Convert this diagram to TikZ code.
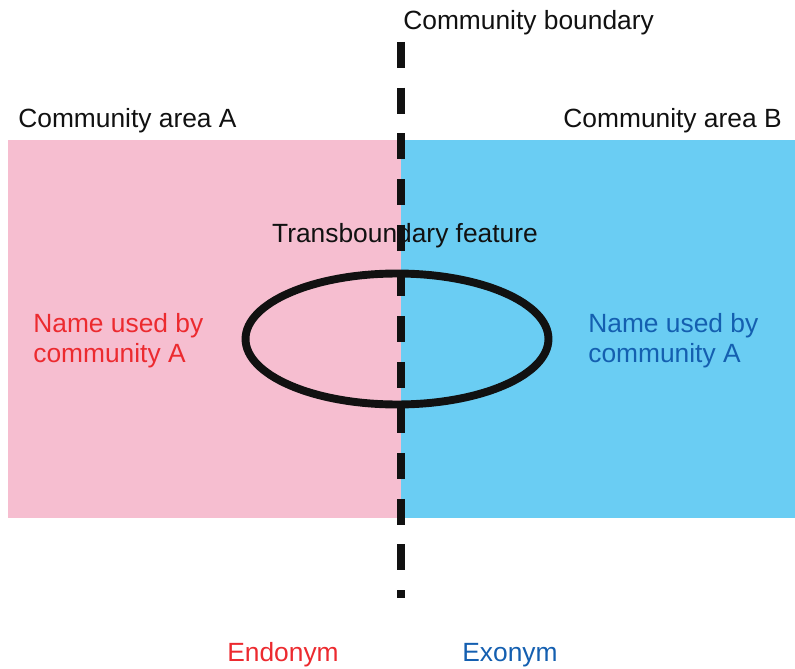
\documentclass[tikz,border=0pt]{standalone}
\usepackage{fontspec}
\setmainfont{Liberation Sans}
\usetikzlibrary{positioning,shapes.geometric}
\definecolor{endofill}{HTML}{F6BED0}
\definecolor{exofill}{HTML}{6ACDF3}
\definecolor{endotext}{HTML}{EC2A2F}
\definecolor{exotext}{HTML}{145FB0}
\definecolor{ink}{HTML}{111111}
\tikzset{
  area/.style     = {draw=none, inner sep=0pt, anchor=north west},
  lbl/.style      = {font=\fontsize{15}{17}\selectfont, inner sep=0pt, text=ink},
  usedname/.style = {font=\fontsize{15}{17}\selectfont, inner sep=0pt, align=left},
  border/.style   = {draw=ink, line width=4pt, dash pattern=on 14.7pt off 11.3pt},
}

\begin{document}
\begin{tikzpicture}[x=0.02cm, y=-0.02cm]
    \useasboundingbox (0,0) rectangle (795,669);
    % the two community areas
    \node[area, fill=endofill, minimum width=7.86cm, minimum height=7.56cm] (areaA) at (8,140) {};
    \node[area, fill=exofill, minimum width=7.88cm, minimum height=7.56cm] (areaB) at (401,140) {};
    \node[lbl, anchor=west] (labA) at (18,121) {Community area A};
    \node[lbl, anchor=east] (labB) at (782,121) {Community area B};
    % boundary line
    \coordinate (btop) at (401,42);
    \coordinate (bbot) at (401,598);
    \node[lbl, anchor=west] (labbound) at (403,23) {Community boundary};
    % the feature
    \node[ellipse, draw=ink, line width=4.5pt, minimum width=6.06cm, minimum height=2.62cm,
          inner sep=0pt] (feature) at (397,339) {};
    \draw[border] (btop) -- (bbot);
    \node[lbl] (labfeat) at (405,236) {Transboundary feature};
    % names
    \node[usedname, text=endotext, anchor=west] (nameA) at (33,341) {Name used by\\community A};
    \node[usedname, text=exotext, anchor=west] (nameB) at (588,341) {Name used by\\community A};
    \node[lbl, text=endotext] (endo) at (283,655) {Endonym};
    \node[lbl, text=exotext] (exo) at (510,655) {Exonym};
\end{tikzpicture}
\end{document}
